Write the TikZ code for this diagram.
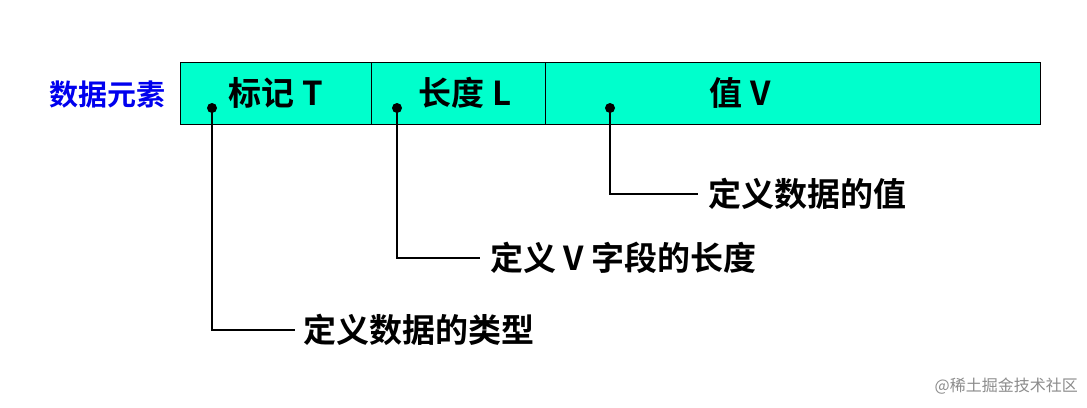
\documentclass[tikz,border=0pt]{standalone}
\usepackage{fontspec}
\newfontfamily\cjk{Noto Sans CJK SC}
\newfontfamily\cjkb{Noto Sans CJK SC Bold}
\definecolor{barfill}{HTML}{00FFCC}
\definecolor{lbl}{HTML}{0000EE}
\tikzset{
  txt/.style={font=\cjkb\fontsize{33}{35}\selectfont, inner sep=0pt},
  desc/.style={txt, anchor=west},
  lead/.style={line width=2.5pt},
  dotmark/.style={circle, fill=black, inner sep=0pt, minimum size=10pt},
}
\begin{document}
\begin{tikzpicture}[x=1pt,y=-1pt]
\useasboundingbox (0,0) rectangle (1087,407);
\fill[white] (0,0) rectangle (1087,407);
\draw[fill=barfill, line width=1pt] (180,62) rectangle (1040,124);
\draw[line width=1pt] (371,62) -- (371,124);
\draw[line width=1pt] (545,62) -- (545,124);
\node[txt] (t) at (276,93) {标记 T};
\node[txt] (l) at (465,93) {长度 L};
\node[txt] (v) at (740,93) {值 V};
\node[txt, text=lbl, font=\cjkb\fontsize{29}{31}\selectfont] (de) at (107,95) {数据元素};
\node[dotmark] (d1) at (212,108) {};
\node[dotmark] (d2) at (397,108) {};
\node[dotmark] (d3) at (610,108) {};
\node[desc] (e1) at (303,330) {定义数据的类型};
\node[desc] (e2) at (490,258) {定义 V 字段的长度};
\node[desc] (e3) at (708,194) {定义数据的值};
\draw[lead] (d1.center) |- ([xshift=-8pt]e1.west);
\draw[lead] (d2.center) |- ([xshift=-10pt]e2.west);
\draw[lead] (d3.center) |- ([xshift=-10pt]e3.west);
\node[font=\cjk\fontsize{16}{18}\selectfont, text=black!45, anchor=east, inner sep=0pt] (wm) at (1078,386) {@稀土掘金技术社区};
\end{tikzpicture}
\end{document}
